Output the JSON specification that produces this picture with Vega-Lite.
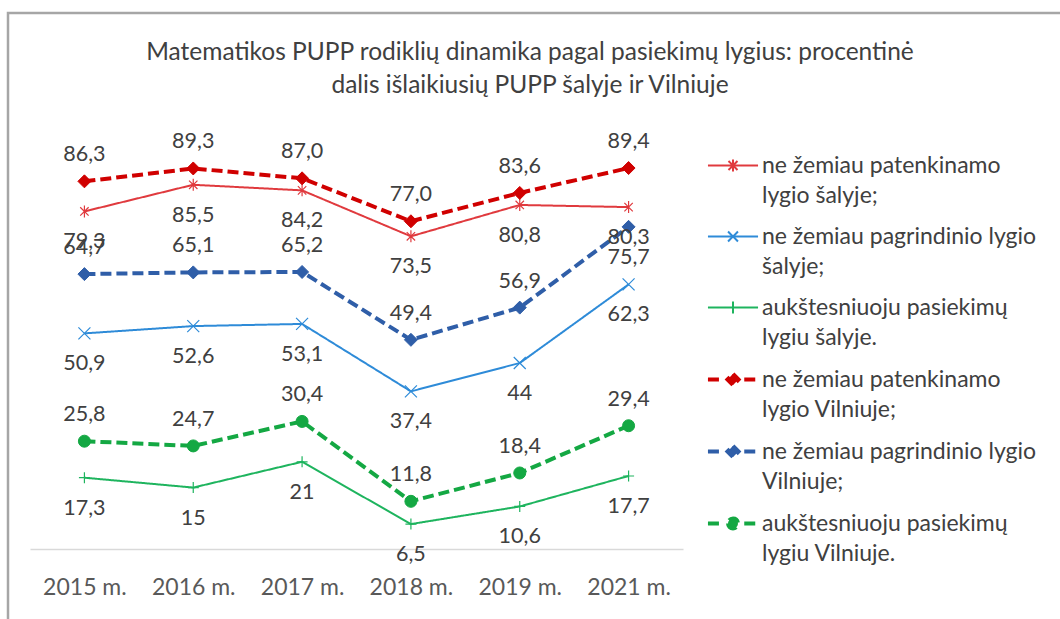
{
  "$schema": "https://vega.github.io/schema/vega-lite/v6.json",
  "width": 1052,
  "height": 606,
  "autosize": {"type": "none"},
  "padding": {"left": 8, "top": 13, "right": 0, "bottom": 0},
  "background": "white",
  "config": {
    "font": "Lato",
    "view": {"stroke": "#A6A6A6", "strokeWidth": 2.5, "strokeDash": [1052, 1658, 606]},
    "style": {"guide-label": {"lineHeight": 30.5}},
    "legend": {
      "orient": "none",
      "legendX": 708,
      "legendY": 136.5,
      "padding": 0,
      "labelFont": "Lato",
      "labelFontSize": 23,
      "labelColor": "#404040",
      "labelBaseline": "middle",
      "labelLimit": 400,
      "labelOffset": 12,
      "symbolSize": 900,
      "symbolOpacity": 1,
      "rowPadding": 12
    }
  },
  "title": {
    "text": ["Matematikos PUPP rodiklių dinamika pagal pasiekimų lygius: procentinė", "dalis išlaikiusių PUPP šalyje ir Vilniuje"],
    "font": "Lato",
    "fontSize": 24.5,
    "fontWeight": "normal",
    "color": "#404040",
    "lineHeight": 33,
    "anchor": "middle",
    "offset": 0,
    "dx": -4,
    "dy": 85
  },
  "data": {"values": [
    {"series": "ne žemiau patenkinamo lygio šalyje;", "year": "2015 m.", "value": 79.3, "label": "79,3"},
    {"series": "ne žemiau patenkinamo lygio šalyje;", "year": "2016 m.", "value": 85.5, "label": "85,5"},
    {"series": "ne žemiau patenkinamo lygio šalyje;", "year": "2017 m.", "value": 84.2, "label": "84,2"},
    {"series": "ne žemiau patenkinamo lygio šalyje;", "year": "2018 m.", "value": 73.5, "label": "73,5"},
    {"series": "ne žemiau patenkinamo lygio šalyje;", "year": "2019 m.", "value": 80.8, "label": "80,8"},
    {"series": "ne žemiau patenkinamo lygio šalyje;", "year": "2021 m.", "value": 80.3, "label": "80,3"},
    {"series": "ne žemiau pagrindinio lygio šalyje;", "year": "2015 m.", "value": 50.9, "label": "50,9"},
    {"series": "ne žemiau pagrindinio lygio šalyje;", "year": "2016 m.", "value": 52.6, "label": "52,6"},
    {"series": "ne žemiau pagrindinio lygio šalyje;", "year": "2017 m.", "value": 53.1, "label": "53,1"},
    {"series": "ne žemiau pagrindinio lygio šalyje;", "year": "2018 m.", "value": 37.4, "label": "37,4"},
    {"series": "ne žemiau pagrindinio lygio šalyje;", "year": "2019 m.", "value": 44, "label": "44"},
    {"series": "ne žemiau pagrindinio lygio šalyje;", "year": "2021 m.", "value": 62.3, "label": "62,3"},
    {"series": "aukštesniuoju pasiekimų lygiu šalyje.", "year": "2015 m.", "value": 17.3, "label": "17,3"},
    {"series": "aukštesniuoju pasiekimų lygiu šalyje.", "year": "2016 m.", "value": 15, "label": "15"},
    {"series": "aukštesniuoju pasiekimų lygiu šalyje.", "year": "2017 m.", "value": 21, "label": "21"},
    {"series": "aukštesniuoju pasiekimų lygiu šalyje.", "year": "2018 m.", "value": 6.5, "label": "6,5"},
    {"series": "aukštesniuoju pasiekimų lygiu šalyje.", "year": "2019 m.", "value": 10.6, "label": "10,6"},
    {"series": "aukštesniuoju pasiekimų lygiu šalyje.", "year": "2021 m.", "value": 17.7, "label": "17,7"},
    {"series": "ne žemiau patenkinamo lygio Vilniuje;", "year": "2015 m.", "value": 86.3, "label": "86,3"},
    {"series": "ne žemiau patenkinamo lygio Vilniuje;", "year": "2016 m.", "value": 89.3, "label": "89,3"},
    {"series": "ne žemiau patenkinamo lygio Vilniuje;", "year": "2017 m.", "value": 87.0, "label": "87,0"},
    {"series": "ne žemiau patenkinamo lygio Vilniuje;", "year": "2018 m.", "value": 77.0, "label": "77,0"},
    {"series": "ne žemiau patenkinamo lygio Vilniuje;", "year": "2019 m.", "value": 83.6, "label": "83,6"},
    {"series": "ne žemiau patenkinamo lygio Vilniuje;", "year": "2021 m.", "value": 89.4, "label": "89,4"},
    {"series": "ne žemiau pagrindinio lygio Vilniuje;", "year": "2015 m.", "value": 64.7, "label": "64,7"},
    {"series": "ne žemiau pagrindinio lygio Vilniuje;", "year": "2016 m.", "value": 65.1, "label": "65,1"},
    {"series": "ne žemiau pagrindinio lygio Vilniuje;", "year": "2017 m.", "value": 65.2, "label": "65,2"},
    {"series": "ne žemiau pagrindinio lygio Vilniuje;", "year": "2018 m.", "value": 49.4, "label": "49,4"},
    {"series": "ne žemiau pagrindinio lygio Vilniuje;", "year": "2019 m.", "value": 56.9, "label": "56,9"},
    {"series": "ne žemiau pagrindinio lygio Vilniuje;", "year": "2021 m.", "value": 75.7, "label": "75,7"},
    {"series": "aukštesniuoju pasiekimų lygiu Vilniuje.", "year": "2015 m.", "value": 25.8, "label": "25,8"},
    {"series": "aukštesniuoju pasiekimų lygiu Vilniuje.", "year": "2016 m.", "value": 24.7, "label": "24,7"},
    {"series": "aukštesniuoju pasiekimų lygiu Vilniuje.", "year": "2017 m.", "value": 30.4, "label": "30,4"},
    {"series": "aukštesniuoju pasiekimų lygiu Vilniuje.", "year": "2018 m.", "value": 11.8, "label": "11,8"},
    {"series": "aukštesniuoju pasiekimų lygiu Vilniuje.", "year": "2019 m.", "value": 18.4, "label": "18,4"},
    {"series": "aukštesniuoju pasiekimų lygiu Vilniuje.", "year": "2021 m.", "value": 29.4, "label": "29,4"}
  ]},
  "encoding": {
    "x": {
      "field": "year", "type": "ordinal",
      "scale": {"type": "point", "domain": ["2015 m.", "2016 m.", "2017 m.", "2018 m.", "2019 m.", "2021 m."], "range": [22, 675], "padding": 0.5},
      "axis": {"title": null, "orient": "bottom", "offset": -70, "domainColor": "#D9D9D9", "domainWidth": 1.5, "ticks": false, "tickSize": 0, "labelPadding": 27, "labelFont": "Lato", "labelFontSize": 23, "labelColor": "#595959", "grid": false, "labelAngle": 0}
    },
    "y": {
      "field": "value", "type": "quantitative",
      "scale": {"domain": [0, 100], "range": [539, 109.5], "nice": false, "zero": false},
      "axis": null
    }
  },
  "layer": [
    {
      "mark": {"type": "point", "opacity": 0},
      "encoding": {
        "stroke": {"field": "series", "type": "nominal",
          "scale": {"domain": ["ne žemiau patenkinamo lygio šalyje;", "ne žemiau pagrindinio lygio šalyje;", "aukštesniuoju pasiekimų lygiu šalyje.", "ne žemiau patenkinamo lygio Vilniuje;", "ne žemiau pagrindinio lygio Vilniuje;", "aukštesniuoju pasiekimų lygiu Vilniuje."], "range": ["#E03A3E", "#2E8BD8", "#1EB45E", "#D00000", "#2F5EA8", "#14A843"]},
          "legend": {"title": null, "labelExpr": "indexof(datum.label,'pagrindinio')>=0 ? [slice(datum.label,0,lastindexof(datum.label,' ')), slice(datum.label,lastindexof(datum.label,' ')+1)] : [slice(datum.label,0,indexof(datum.label,' lygi')), slice(datum.label,indexof(datum.label,' lygi')+1)]"}},
        "fill": {"field": "series", "type": "nominal",
          "scale": {"domain": ["ne žemiau patenkinamo lygio šalyje;", "ne žemiau pagrindinio lygio šalyje;", "aukštesniuoju pasiekimų lygiu šalyje.", "ne žemiau patenkinamo lygio Vilniuje;", "ne žemiau pagrindinio lygio Vilniuje;", "aukštesniuoju pasiekimų lygiu Vilniuje."], "range": ["transparent", "transparent", "transparent", "#D00000", "#2F5EA8", "#14A843"]},
          "legend": {"title": null, "labelExpr": "indexof(datum.label,'pagrindinio')>=0 ? [slice(datum.label,0,lastindexof(datum.label,' ')), slice(datum.label,lastindexof(datum.label,' ')+1)] : [slice(datum.label,0,indexof(datum.label,' lygi')), slice(datum.label,indexof(datum.label,' lygi')+1)]"}},
        "strokeDash": {"field": "series", "type": "nominal",
          "scale": {"domain": ["ne žemiau patenkinamo lygio šalyje;", "ne žemiau pagrindinio lygio šalyje;", "aukštesniuoju pasiekimų lygiu šalyje.", "ne žemiau patenkinamo lygio Vilniuje;", "ne žemiau pagrindinio lygio Vilniuje;", "aukštesniuoju pasiekimų lygiu Vilniuje."], "range": [[1, 0], [1, 0], [1, 0], [11, 5], [11, 5], [11, 5]]},
          "legend": {"title": null, "labelExpr": "indexof(datum.label,'pagrindinio')>=0 ? [slice(datum.label,0,lastindexof(datum.label,' ')), slice(datum.label,lastindexof(datum.label,' ')+1)] : [slice(datum.label,0,indexof(datum.label,' lygi')), slice(datum.label,indexof(datum.label,' lygi')+1)]"}},
        "strokeWidth": {"field": "series", "type": "nominal",
          "scale": {"type": "ordinal", "domain": ["ne žemiau patenkinamo lygio šalyje;", "ne žemiau pagrindinio lygio šalyje;", "aukštesniuoju pasiekimų lygiu šalyje.", "ne žemiau patenkinamo lygio Vilniuje;", "ne žemiau pagrindinio lygio Vilniuje;", "aukštesniuoju pasiekimų lygiu Vilniuje."], "range": [2, 2, 2, 4, 4, 4]},
          "legend": {"title": null, "labelExpr": "indexof(datum.label,'pagrindinio')>=0 ? [slice(datum.label,0,lastindexof(datum.label,' ')), slice(datum.label,lastindexof(datum.label,' ')+1)] : [slice(datum.label,0,indexof(datum.label,' lygi')), slice(datum.label,indexof(datum.label,' lygi')+1)]"}},
        "shape": {"field": "series", "type": "nominal",
          "scale": {"domain": ["ne žemiau patenkinamo lygio šalyje;", "ne žemiau pagrindinio lygio šalyje;", "aukštesniuoju pasiekimų lygiu šalyje.", "ne žemiau patenkinamo lygio Vilniuje;", "ne žemiau pagrindinio lygio Vilniuje;", "aukštesniuoju pasiekimų lygiu Vilniuje."],
            "range": [
              "M-1.67,0L1.67,0M-0.3,-0.3L0.3,0.3M-0.3,0.3L0.3,-0.3M0,-0.4L0,0.4",
              "M-1.67,0L1.67,0M-0.33,-0.33L0.33,0.33M-0.33,0.33L0.33,-0.33",
              "M-1.67,0L1.67,0M0,-0.4L0,0.4",
              "M-1.67,0L-0.75,0M0.75,0L1.67,0M0,-0.37L0.37,0L0,0.37L-0.37,0Z",
              "M-1.67,0L-0.75,0M0.75,0L1.67,0M0,-0.37L0.37,0L0,0.37L-0.37,0Z",
              "M-1.67,0L-0.75,0M0.75,0L1.67,0M-0.33,0A0.33,0.33,0,1,0,0.33,0A0.33,0.33,0,1,0,-0.33,0Z"
            ]},
          "legend": {"title": null, "labelExpr": "indexof(datum.label,'pagrindinio')>=0 ? [slice(datum.label,0,lastindexof(datum.label,' ')), slice(datum.label,lastindexof(datum.label,' ')+1)] : [slice(datum.label,0,indexof(datum.label,' lygi')), slice(datum.label,indexof(datum.label,' lygi')+1)]"}}
      }
    },
    {
      "mark": {"type": "line", "strokeCap": "butt", "strokeJoin": "round"},
      "encoding": {
        "stroke": {"field": "series", "type": "nominal", "legend": null,
          "scale": {"domain": ["ne žemiau patenkinamo lygio šalyje;", "ne žemiau pagrindinio lygio šalyje;", "aukštesniuoju pasiekimų lygiu šalyje.", "ne žemiau patenkinamo lygio Vilniuje;", "ne žemiau pagrindinio lygio Vilniuje;", "aukštesniuoju pasiekimų lygiu Vilniuje."], "range": ["#E03A3E", "#2E8BD8", "#1EB45E", "#D00000", "#2F5EA8", "#14A843"]}},
        "strokeDash": {"field": "series", "type": "nominal", "legend": null,
          "scale": {"domain": ["ne žemiau patenkinamo lygio šalyje;", "ne žemiau pagrindinio lygio šalyje;", "aukštesniuoju pasiekimų lygiu šalyje.", "ne žemiau patenkinamo lygio Vilniuje;", "ne žemiau pagrindinio lygio Vilniuje;", "aukštesniuoju pasiekimų lygiu Vilniuje."], "range": [[1, 0], [1, 0], [1, 0], [11, 5], [11, 5], [11, 5]]}},
        "strokeWidth": {"field": "series", "type": "nominal", "legend": null,
          "scale": {"type": "ordinal", "domain": ["ne žemiau patenkinamo lygio šalyje;", "ne žemiau pagrindinio lygio šalyje;", "aukštesniuoju pasiekimų lygiu šalyje.", "ne žemiau patenkinamo lygio Vilniuje;", "ne žemiau pagrindinio lygio Vilniuje;", "aukštesniuoju pasiekimų lygiu Vilniuje."], "range": [2, 2, 2, 4, 4, 4]}}
      }
    },
    {
      "transform": [{"filter": "datum.series == 'ne žemiau patenkinamo lygio šalyje;'"}],
      "mark": {"type": "point", "shape": "M-0.7,-0.7L0.7,0.7M-0.7,0.7L0.7,-0.7M0,-1L0,1", "size": 144, "strokeWidth": 1.2, "opacity": 1, "filled": false},
      "encoding": {
        "stroke": {"field": "series", "type": "nominal", "legend": null,
          "scale": {"domain": ["ne žemiau patenkinamo lygio šalyje;", "ne žemiau pagrindinio lygio šalyje;", "aukštesniuoju pasiekimų lygiu šalyje.", "ne žemiau patenkinamo lygio Vilniuje;", "ne žemiau pagrindinio lygio Vilniuje;", "aukštesniuoju pasiekimų lygiu Vilniuje."], "range": ["#E03A3E", "#2E8BD8", "#1EB45E", "#D00000", "#2F5EA8", "#14A843"]}}
      }
    },
    {
      "transform": [{"filter": "datum.series == 'ne žemiau pagrindinio lygio šalyje;'"}],
      "mark": {"type": "point", "shape": "M-1,-1L1,1M-1,1L1,-1", "size": 144, "strokeWidth": 1.2, "opacity": 1, "filled": false},
      "encoding": {
        "stroke": {"field": "series", "type": "nominal", "legend": null,
          "scale": {"domain": ["ne žemiau patenkinamo lygio šalyje;", "ne žemiau pagrindinio lygio šalyje;", "aukštesniuoju pasiekimų lygiu šalyje.", "ne žemiau patenkinamo lygio Vilniuje;", "ne žemiau pagrindinio lygio Vilniuje;", "aukštesniuoju pasiekimų lygiu Vilniuje."], "range": ["#E03A3E", "#2E8BD8", "#1EB45E", "#D00000", "#2F5EA8", "#14A843"]}}
      }
    },
    {
      "transform": [{"filter": "datum.series == 'aukštesniuoju pasiekimų lygiu šalyje.'"}],
      "mark": {"type": "point", "shape": "M0,-1L0,1M-1,0L1,0", "size": 121, "strokeWidth": 1.2, "opacity": 1, "filled": false},
      "encoding": {
        "stroke": {"field": "series", "type": "nominal", "legend": null,
          "scale": {"domain": ["ne žemiau patenkinamo lygio šalyje;", "ne žemiau pagrindinio lygio šalyje;", "aukštesniuoju pasiekimų lygiu šalyje.", "ne žemiau patenkinamo lygio Vilniuje;", "ne žemiau pagrindinio lygio Vilniuje;", "aukštesniuoju pasiekimų lygiu Vilniuje."], "range": ["#E03A3E", "#2E8BD8", "#1EB45E", "#D00000", "#2F5EA8", "#14A843"]}}
      }
    },
    {
      "transform": [{"filter": "datum.series == 'ne žemiau patenkinamo lygio Vilniuje;' || datum.series == 'ne žemiau pagrindinio lygio Vilniuje;'"}],
      "mark": {"type": "point", "shape": "M0,-1L1,0L0,1L-1,0Z", "size": 169, "strokeWidth": 1, "opacity": 1},
      "encoding": {
        "stroke": {"field": "series", "type": "nominal", "legend": null,
          "scale": {"domain": ["ne žemiau patenkinamo lygio šalyje;", "ne žemiau pagrindinio lygio šalyje;", "aukštesniuoju pasiekimų lygiu šalyje.", "ne žemiau patenkinamo lygio Vilniuje;", "ne žemiau pagrindinio lygio Vilniuje;", "aukštesniuoju pasiekimų lygiu Vilniuje."], "range": ["#E03A3E", "#2E8BD8", "#1EB45E", "#D00000", "#2F5EA8", "#14A843"]}},
        "fill": {"field": "series", "type": "nominal", "legend": null,
          "scale": {"domain": ["ne žemiau patenkinamo lygio šalyje;", "ne žemiau pagrindinio lygio šalyje;", "aukštesniuoju pasiekimų lygiu šalyje.", "ne žemiau patenkinamo lygio Vilniuje;", "ne žemiau pagrindinio lygio Vilniuje;", "aukštesniuoju pasiekimų lygiu Vilniuje."], "range": ["transparent", "transparent", "transparent", "#D00000", "#2F5EA8", "#14A843"]}}
      }
    },
    {
      "transform": [{"filter": "datum.series == 'aukštesniuoju pasiekimų lygiu Vilniuje.'"}],
      "mark": {"type": "point", "shape": "circle", "size": 144, "strokeWidth": 1, "opacity": 1},
      "encoding": {
        "stroke": {"field": "series", "type": "nominal", "legend": null,
          "scale": {"domain": ["ne žemiau patenkinamo lygio šalyje;", "ne žemiau pagrindinio lygio šalyje;", "aukštesniuoju pasiekimų lygiu šalyje.", "ne žemiau patenkinamo lygio Vilniuje;", "ne žemiau pagrindinio lygio Vilniuje;", "aukštesniuoju pasiekimų lygiu Vilniuje."], "range": ["#E03A3E", "#2E8BD8", "#1EB45E", "#D00000", "#2F5EA8", "#14A843"]}},
        "fill": {"field": "series", "type": "nominal", "legend": null,
          "scale": {"domain": ["ne žemiau patenkinamo lygio šalyje;", "ne žemiau pagrindinio lygio šalyje;", "aukštesniuoju pasiekimų lygiu šalyje.", "ne žemiau patenkinamo lygio Vilniuje;", "ne žemiau pagrindinio lygio Vilniuje;", "aukštesniuoju pasiekimų lygiu Vilniuje."], "range": ["transparent", "transparent", "transparent", "#D00000", "#2F5EA8", "#14A843"]}}
      }
    },
    {
      "transform": [{"filter": "indexof(datum.series,'Vilniuje') >= 0 && !(datum.year == '2021 m.' && indexof(datum.series,'pagrindinio') >= 0)"}],
      "mark": {"type": "text", "dy": -26, "font": "Lato", "fontSize": 21.5, "color": "#404040", "baseline": "middle", "align": "center"},
      "encoding": {"text": {"field": "label", "type": "nominal"}}
    },
    {
      "transform": [{"filter": "!(indexof(datum.series,'Vilniuje') >= 0 && !(datum.year == '2021 m.' && indexof(datum.series,'pagrindinio') >= 0))"}],
      "mark": {"type": "text", "dy": 31, "font": "Lato", "fontSize": 21.5, "color": "#404040", "baseline": "middle", "align": "center"},
      "encoding": {"text": {"field": "label", "type": "nominal"}}
    }
  ]
}
